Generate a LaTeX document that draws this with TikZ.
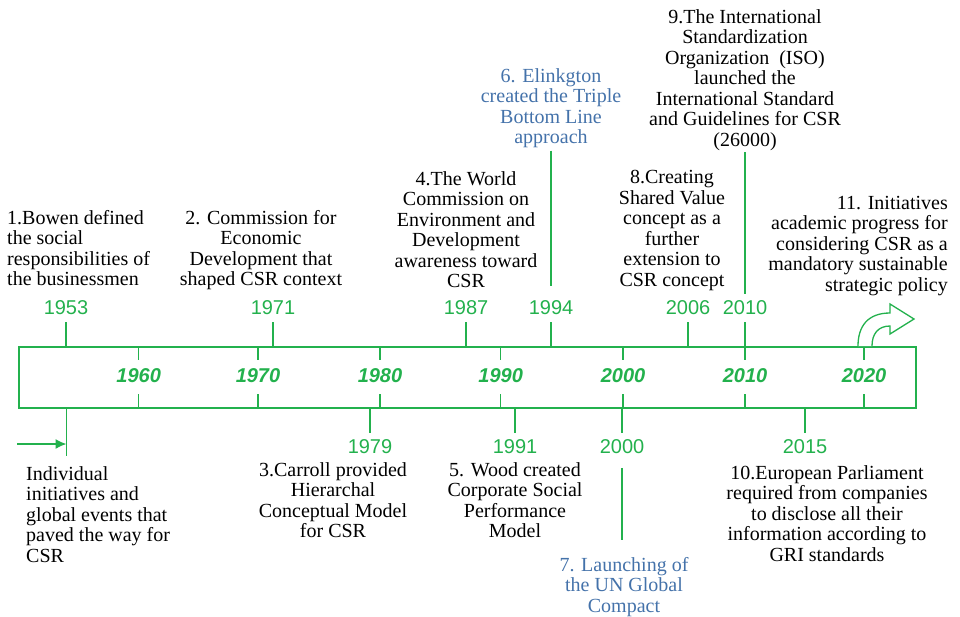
\documentclass[tikz,border=0pt]{standalone}
\usepackage{fontspec}
\setmainfont{Liberation Serif}
\newfontfamily\yearfont{Liberation Sans}
\usepackage{xcolor}
\usetikzlibrary{positioning,arrows.meta}
\definecolor{tlgreen}{RGB}{35,177,77}
\definecolor{tlblue}{RGB}{68,114,170}

\begin{document}
\begin{tikzpicture}[x=1pt, y=-1pt, >=Latex,
  txt/.style={align=center, inner sep=0pt, anchor=north, font=\fontsize{20}{20.5}\selectfont},
  year/.style={text=tlgreen, inner xsep=0pt, inner ysep=7pt, font=\yearfont\fontsize{20}{24}\selectfont},
  decade/.style={text=tlgreen, inner sep=0pt, font=\yearfont\bfseries\itshape\fontsize{20}{24}\selectfont},
  tick/.style={draw=tlgreen, line width=1.5pt}]
  \useasboundingbox (0,0) rectangle (960,616);
  \node[draw=tlgreen, line width=1.5pt, minimum width=897pt, minimum height=61pt, inner sep=0pt, anchor=north west] (bar) at (18,346) {};
  \foreach \x/\yr in {138.7/1960, 258/1970, 380/1980, 500.7/1990, 623/2000, 745/2010, 864/2020} {
    \node[decade] (d\yr) at (\x,376) {\yr};
    \draw[tick] (d\yr |- bar.north) -- ++(0,14);
    \draw[tick] (d\yr |- bar.south) -- ++(0,-15);
  }
  \foreach \x/\yr in {66/1953, 273/1971, 466/1987, 551/1994, 688/2006, 745/2010} {
    \node[year] (y\yr) at (\x,308) {\yr};
    \draw[tick] (y\yr.south) -- (y\yr.south |- bar.north);
  }
  \foreach \x/\yr in {370/1979, 515/1991, 622/2000, 805/2015} {
    \node[year] (y\yr) at (\x,447) {\yr};
    \draw[tick] (y\yr.north |- bar.south) -- (y\yr.north);
  }
  \coordinate (start) at (66.5,456);
  \coordinate (lead) at (17,444);
  \draw[tick] (start |- bar.south) -- (start);
  \draw[tick, -{Latex[length=11pt,width=10pt]}] (lead) -- (lead -| start);
  \draw[tick, line width=1.3pt, fill=white] (858,346) .. controls (858,326) and (868,313) .. (890,313)
    -- (890,304) -- (914,319) -- (890,334) -- (890,326)
    .. controls (878,326) and (872,334) .. (872,346);

  \node[txt, anchor=north west, align=left] (bowen) at (7,210) {1.Bowen defined\\the social\\responsibilities of\\the businessmen};
  \node[txt] (ced) at (261,210) {2. Commission for\\Economic\\Development that\\shaped CSR context};
  \node[txt] (wced) at (466,171) {4.The World\\Commission on\\Environment and\\Development\\awareness toward\\CSR};
  \node[txt, text=tlblue] (elink) at (551,68) {6. Elinkgton\\created the Triple\\Bottom Line\\approach};
  \node[txt] (csv) at (672,170) {8.Creating\\Shared Value\\concept as a\\further\\extension to\\CSR concept};
  \node[txt] (iso) at (745,9) {9.The International\\Standardization\\Organization~~(ISO)\\launched the\\International Standard\\and Guidelines for CSR\\(26000)};
  \node[txt, anchor=north east, align=right] (initiative) at (948,196) {11. Initiatives\\academic progress for\\considering CSR as a\\mandatory sustainable\\strategic policy};
  \node[txt] (carroll) at (333,462) {3.Carroll provided\\Hierarchal\\Conceptual Model\\for CSR};
  \node[txt] (wood) at (515,462) {5. Wood created\\Corporate Social\\Performance\\Model};
  \node[txt, text=tlblue] (un) at (624,557) {7. Launching of\\the UN Global\\Compact};
  \node[txt] (eu) at (827,465) {10.European Parliament\\required from companies\\to disclose all their\\information according to\\GRI standards};
  \node[txt, anchor=north west, align=left] (individual) at (26,466) {Individual\\initiatives and\\global events that\\paved the way for\\CSR};

  \draw[tick, shorten <=2.5pt, shorten >=8pt] (elink.south) -- (elink.south |- y1994.north);
  \draw[tick, shorten <=1.5pt] (iso.south) -- (iso.south |- y2010.north);
  \draw[tick, shorten <=6.5pt, shorten >=17pt] (y2000.south) -- (y2000.south |- un.north);
\end{tikzpicture}
\end{document}
